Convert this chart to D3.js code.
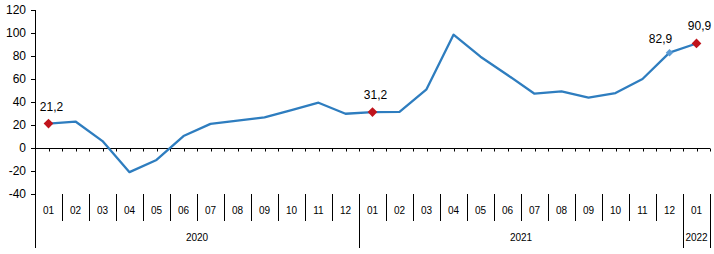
<!DOCTYPE html>
<html>
<head>
<meta charset="utf-8">
<script src="https://cdn.jsdelivr.net/npm/d3@7"></script>
<style>
  body { margin: 0; background: #fff; }
  svg { display: block; font-family: "Liberation Sans", Arial, sans-serif; }
</style>
</head>
<body>
<div id="chart"></div>
<script>
// months 2020-01 .. 2022-01
const months = ["01","02","03","04","05","06","07","08","09","10","11","12",
                "01","02","03","04","05","06","07","08","09","10","11","12",
                "01"];
const years = [
  { label: "2020", start: 0, end: 12 },
  { label: "2021", start: 12, end: 24 },
  { label: "2022", start: 24, end: 25 }
];
const values = [21.2, 23, 6, -21, -10.4, 10.4, 21, 23.8, 26.7, 33, 39.4, 29.8,
                31.2, 31.4, 51, 98.5, 79.4, 63.5, 47.2, 49.3, 43.8, 47.8, 60, 82.9,
                90.9];
const yTicks = [-40, -20, 0, 20, 40, 60, 80, 100, 120];
// labelled points: index, text, marker style
const callouts = [
  { i: 0, text: "21,2", kind: "red" },
  { i: 12, text: "31,2", kind: "red" },
  { i: 23, text: "82,9", kind: "blue" },
  { i: 24, text: "90,9", kind: "red" }
];

const width = 714, height = 254;
const left = 35, right = 710;

const svg = d3.select("#chart").append("svg")
    .attr("width", width)
    .attr("height", height);

const x = d3.scaleBand()
    .domain(d3.range(months.length))
    .range([left, right]);

const y = d3.scaleLinear()
    .domain([-40, 120])
    .range([194, 10]);

const cx = i => x(i) + x.bandwidth() / 2;

// y axis
svg.append("line")
    .attr("x1", left + 0.5).attr("x2", left + 0.5)
    .attr("y1", y(120)).attr("y2", 248)
    .attr("stroke", "#000");

svg.append("g")
  .selectAll("line")
  .data(yTicks)
  .join("line")
    .attr("x1", left - 4).attr("x2", left)
    .attr("y1", d => Math.round(y(d)) + 0.5)
    .attr("y2", d => Math.round(y(d)) + 0.5)
    .attr("stroke", "#000");

svg.append("g")
  .selectAll("text")
  .data(yTicks)
  .join("text")
    .attr("x", left - 9)
    .attr("y", d => y(d))
    .attr("dy", "0.35em")
    .attr("text-anchor", "end")
    .style("font-size", "12px")
    .text(d => d);

// zero line with small ticks
const zy = Math.round(y(0)) + 0.5;
svg.append("line")
    .attr("x1", left).attr("x2", right)
    .attr("y1", zy).attr("y2", zy)
    .attr("stroke", "#000");

const halfTicks = d3.range(months.length * 2 + 1).map(k => left + k * x.bandwidth() / 2);
svg.append("g")
  .selectAll("line")
  .data(halfTicks)
  .join("line")
    .attr("x1", d => Math.round(d) + 0.5).attr("x2", d => Math.round(d) + 0.5)
    .attr("y1", zy).attr("y2", zy + 3)
    .attr("stroke", "#000");

// month separators and labels
const sepTop = 194, monthBottom = 221, yearBottom = 248;
const yearEdges = new Set(years.map(d => d.start).concat([months.length]));
svg.append("g")
  .selectAll("line")
  .data(d3.range(1, months.length + 1))
  .join("line")
    .attr("x1", i => Math.round(x(i) ?? right) + 0.5)
    .attr("x2", i => Math.round(x(i) ?? right) + 0.5)
    .attr("y1", sepTop)
    .attr("y2", i => yearEdges.has(i) ? yearBottom : monthBottom)
    .attr("stroke", "#000");

svg.append("g")
  .selectAll("text")
  .data(months)
  .join("text")
    .attr("x", (d, i) => cx(i))
    .attr("y", 210)
    .attr("dy", "0.35em")
    .attr("text-anchor", "middle")
    .style("font-size", "10px")
    .text(d => d);

svg.append("g")
  .selectAll("text")
  .data(years)
  .join("text")
    .attr("x", d => (x(d.start) + (x(d.end) ?? right)) / 2)
    .attr("y", 237)
    .attr("dy", "0.35em")
    .attr("text-anchor", "middle")
    .style("font-size", "10px")
    .text(d => d.label);

// series line
const line = d3.line()
    .x((d, i) => cx(i))
    .y(d => y(d));

svg.append("path")
    .datum(values)
    .attr("fill", "none")
    .attr("stroke", "#2e7dbf")
    .attr("stroke-width", 2.3)
    .attr("stroke-linejoin", "round")
    .attr("d", line);

// markers and value labels
const diamond = d3.symbol().type(d3.symbolDiamond2);
svg.append("g")
  .selectAll("path")
  .data(callouts)
  .join("path")
    .attr("transform", d => `translate(${cx(d.i)},${y(values[d.i])})`)
    .attr("d", d => diamond.size(d.kind === "red" ? 60 : 36)())
    .attr("fill", d => d.kind === "red" ? "#c0141c" : "#5b9bd5");

svg.append("g")
  .selectAll("text")
  .data(callouts)
  .join("text")
    .attr("x", d => cx(d.i) + (d.kind === "blue" ? -9 : 3))
    .attr("y", d => y(values[d.i]) - (d.kind === "blue" ? 10 : 13))
    .attr("text-anchor", "middle")
    .style("font-size", "12px")
    .text(d => d.text);
</script>
</body>
</html>
